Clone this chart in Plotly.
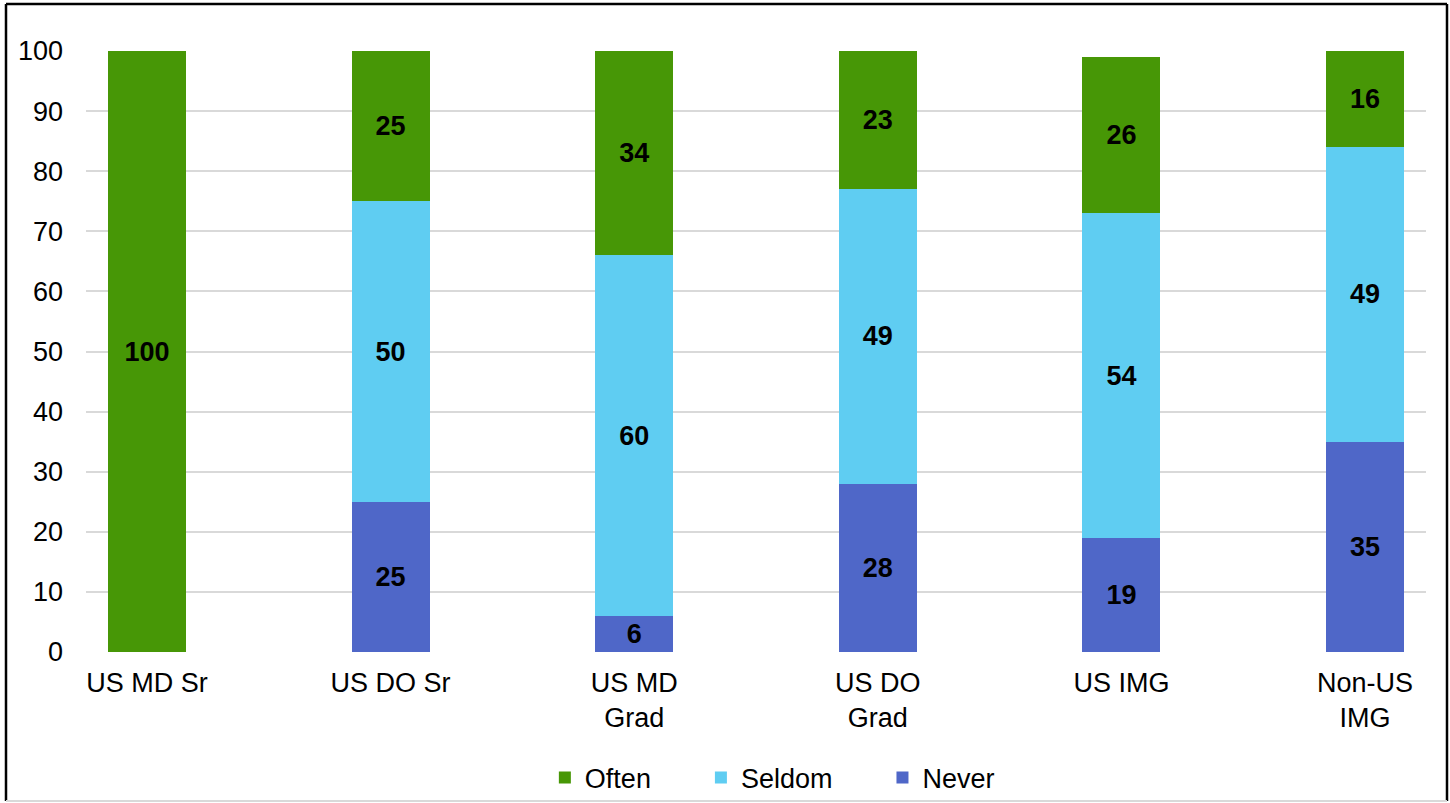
import plotly.graph_objects as go

categories = ["US MD Sr", "US DO Sr", "US MD<br>Grad", "US DO<br>Grad", "US IMG", "Non-US<br>IMG"]
often = [100, 25, 34, 23, 26, 16]
seldom = [0, 50, 60, 49, 54, 49]
never = [0, 25, 6, 28, 19, 35]
series_names = ["Often", "Seldom", "Never"]

colors = {"Often": "#479706", "Seldom": "#5FCDF2", "Never": "#4F67C8"}
PAD = "\u00a0" * 6

fig = go.Figure()
for name, vals in [("Never", never), ("Seldom", seldom), ("Often", often)]:
    fig.add_trace(go.Bar(
        name=name + PAD, x=list(range(len(categories))), y=vals,
        marker=dict(color=colors[name], line=dict(width=0)),
        width=0.32,
        text=[str(v) if v else "" for v in vals],
        textposition="inside", insidetextanchor="middle",
        textfont=dict(family="Liberation Sans, Arial", size=27, color="black", weight="bold"),
        textangle=0,
    ))

L, R, T, B = 86, 24, 51, 151
W, H = 1450, 803
pw, ph = W - L - R, H - T - B

fig.update_layout(
    barmode="stack",
    width=W, height=H,
    margin=dict(l=L, r=R, t=T, b=B),
    plot_bgcolor="white", paper_bgcolor="white",
    font=dict(family="Liberation Sans, Arial", size=27, color="black"),
    uniformtext=dict(mode="show", minsize=27),
    showlegend=True,
    legend=dict(orientation="h", traceorder="reversed", x=0.529, xanchor="center",
                yref="container", y=(H - 778) / H, yanchor="middle", font=dict(size=27),
                bgcolor="rgba(0,0,0,0)"),
    xaxis=dict(range=[-0.25, 5.25], tickmode="array", tickvals=list(range(len(categories))),
               ticktext=categories, showgrid=False, zeroline=False, showline=False,
               ticks="", tickfont=dict(size=27), ticklabelstandoff=12),
    yaxis=dict(range=[0, 100], tick0=0, dtick=10, showgrid=True, gridcolor="#D9D9D9",
               gridwidth=2, zeroline=False, showline=False, ticks="",
               tickfont=dict(size=27), ticklabelstandoff=22),
)

def px_to_paper_x(px):
    return (px - L) / pw

def px_to_paper_y(py):
    return (H - B - py) / ph

# outer border
fig.add_shape(type="line", xref="paper", yref="paper",
              x0=px_to_paper_x(6), x1=px_to_paper_x(6), y0=px_to_paper_y(801), y1=px_to_paper_y(4),
              line=dict(color="black", width=2.5))
fig.add_shape(type="line", xref="paper", yref="paper",
              x0=px_to_paper_x(1447), x1=px_to_paper_x(1447), y0=px_to_paper_y(801), y1=px_to_paper_y(4),
              line=dict(color="black", width=2.5))
fig.add_shape(type="line", xref="paper", yref="paper",
              x0=px_to_paper_x(6), x1=px_to_paper_x(1447), y0=px_to_paper_y(4), y1=px_to_paper_y(4),
              line=dict(color="black", width=2.5))
fig.add_shape(type="line", xref="paper", yref="paper",
              x0=px_to_paper_x(6), x1=px_to_paper_x(1447), y0=px_to_paper_y(801), y1=px_to_paper_y(801),
              line=dict(color="#D9D9D9", width=2))

fig.write_html("out.html", config={"displayModeBar": False},
               post_script="document.body.style.margin='0';")
